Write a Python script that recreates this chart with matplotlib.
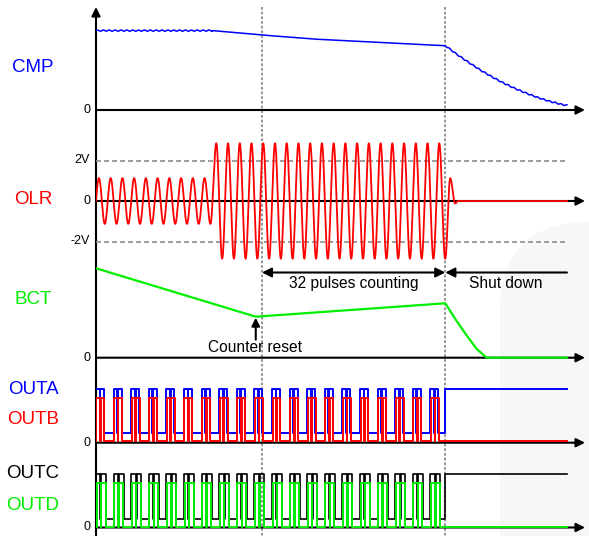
import numpy as np
import matplotlib
matplotlib.use("Agg")
import matplotlib.pyplot as plt
from matplotlib.patches import FancyBboxPatch

plt.rcParams["font.family"] = ["Liberation Sans", "DejaVu Sans"]

W_PX, H_PX = 589, 536

# ---- timing (time in OLR cycles, t=0 at the vertical axis) ----
T_AMP = 9.83      # OLR amplitude step
T_RESET = 14.25   # counter reset
T_MIN = 13.72     # BCT minimum
T_SHUT = 30.0     # shut down
T_END = 40.45

# CMP
cmp_t = [0, 10, 14.25, 18.6, 27.2, 30, 31, 32, 33, 34, 35, 36, 37, 38, 39, 40, 40.45]
cmp_v = [3.97, 3.97, 3.75, 3.55, 3.29, 3.22, 2.78, 2.38, 2.0, 1.66, 1.35, 1.07,
         0.83, 0.61, 0.43, 0.28, 0.23]
cmp_ripple = 0.03

# OLR (V)
olr_period = 1.008
olr_amp_low = 1.13
olr_amp_high = 2.85
olr_tail_t = [30.0, 30.42, 30.85, 31.1]
olr_tail_v = [-2.85, 1.13, -0.12, 0.0]

# BCT
bct_t = [0, 13.72, 30.0, 30.9, 31.8, 32.7, 33.55, 40.45]
bct_v = [4.47, 2.05, 2.72, 1.9, 1.14, 0.44, 0.0, 0.0]

# gate outputs: one period, high windows inside the period, high/low levels
out_period = 1.512
outa_win = [(0.0, 0.31), (0.38, 0.68)]
outb_win = [(0.04, 0.35), (0.42, 0.72)]
outc_win = [(0.0, 0.38), (0.46, 0.86)]
outd_win = [(0.05, 0.41), (0.44, 0.82)]
outa_lv = (2.68, 0.47)
outb_lv = (2.22, 0.08)
outc_lv = (2.66, 0.42)
outd_lv = (2.21, 0.05)


def fx(x):
    return x / W_PX


def fy(y):
    return 1 - y / H_PX


def panel(fig, top, bottom, zero, ppu):
    ax = fig.add_axes([fx(96), fy(bottom), fx(585) - fx(96), (bottom - top) / H_PX])
    ax.set_xlim(0, 42)
    ax.set_ylim(-(bottom - zero) / ppu, (zero - top) / ppu)
    ax.axis("off")
    ax.annotate("", xy=(42, 0), xytext=(0, 0), annotation_clip=False,
                arrowprops=dict(arrowstyle="-|>", color="k", lw=1.5,
                                mutation_scale=13, shrinkA=0, shrinkB=0))
    return ax


def cos_join(ts, vs, n=40):
    tt, vv = [], []
    for i in range(len(ts) - 1):
        s = np.linspace(0, 1, n)
        tt.append(ts[i] + (ts[i + 1] - ts[i]) * s)
        vv.append(vs[i] + (vs[i + 1] - vs[i]) * (1 - np.cos(np.pi * s)) / 2)
    return np.concatenate(tt), np.concatenate(vv)


def pulses(windows, lv, t_stop, final):
    hi, lo = lv
    tt, vv = [0.0], [hi if windows[0][0] <= 0 else lo]
    k = 0
    while k * out_period < t_stop:
        c = k * out_period
        for on, off in windows:
            for e, v in ((c + on, hi), (c + off, lo)):
                if 0 < e < t_stop:
                    tt.append(e)
                    vv.append(v)
        k += 1
    tt += [t_stop, T_END]
    vv += [final, final]
    return tt, vv


fig = plt.figure(figsize=(W_PX / 100, H_PX / 100), dpi=100)

# faint watermark shape in the lower right
bg = fig.add_axes([0, 0, 1, 1], zorder=-1)
bg.set_xlim(0, W_PX)
bg.set_ylim(H_PX, 0)
bg.axis("off")
bg.add_patch(FancyBboxPatch((500, 222), 300, 400, boxstyle="round,pad=0,rounding_size=90",
                            fc="#f7f7f7", ec="none"))

# overlay: y axis arrow and event markers (y in pixel rows)
ov = fig.add_axes([fx(96), 0, fx(585) - fx(96), 1])
ov.set_xlim(0, 42)
ov.set_ylim(H_PX, 0)
ov.axis("off")
for tv in (T_RESET, T_SHUT):
    ov.plot([tv, tv], [7, H_PX], color="#8c8c8c", lw=1.3, ls=(0, (1.5, 1.1)))
ov.annotate("", xy=(0, 7), xytext=(0, H_PX), annotation_clip=False,
            arrowprops=dict(arrowstyle="-|>", color="k", lw=1.5,
                            mutation_scale=13, shrinkA=0, shrinkB=0))
ov.annotate("", xy=(T_RESET, 272.5), xytext=(T_SHUT, 272.5),
            arrowprops=dict(arrowstyle="<|-|>", color="k", lw=1.5,
                            mutation_scale=14, shrinkA=0, shrinkB=0))
ov.annotate("", xy=(T_SHUT, 272.5), xytext=(T_END, 272.5),
            arrowprops=dict(arrowstyle="-|>", color="k", lw=1.5,
                            mutation_scale=14, shrinkA=0, shrinkB=0))
ov.text((T_RESET + T_SHUT) / 2, 283.5, "32 pulses counting", ha="center", va="center",
        fontsize=11.2)
ov.text((T_SHUT + T_END) / 2, 283.5, "Shut down", ha="center", va="center", fontsize=11.2)

# CMP
ax = panel(fig, 10, 125, 110, 20)
t = np.linspace(0, T_END, 4000)
v = np.interp(t, cmp_t, cmp_v)
rip = np.where((t < 10) | (t > T_SHUT), cmp_ripple * np.sin(4 * np.pi * t / olr_period), 0)
ax.plot(t, v + rip, color="#0000ff", lw=1.1)

# OLR
ax = panel(fig, 125, 262, 201, 20.25)
ax.plot([0, 40.4], [2, 2], color="#8c8c8c", lw=1.2, ls=(0, (3, 1.8)))
ax.plot([0, 40.4], [-2, -2], color="#8c8c8c", lw=1.2, ls=(0, (3, 1.8)))
t = np.linspace(0, T_SHUT, 6000)
s = np.sin(2 * np.pi * t / olr_period)
mid = (olr_amp_high - olr_amp_low) / 2
half = (olr_amp_high + olr_amp_low) / 2
v = np.where(t < T_AMP, olr_amp_low * s,
             np.where(t < T_AMP + olr_period / 2, mid + half * s, olr_amp_high * s))
tt, vv = cos_join(olr_tail_t, olr_tail_v)
t = np.concatenate([t, tt, [T_END]])
v = np.concatenate([v, vv, [0]])
ax.plot(t, v, color="#ff0000", lw=1.3, zorder=3)

# BCT
ax = panel(fig, 262, 365, 357.7, 20)
ax.plot(bct_t, bct_v, color="#00ee00", lw=1.6, zorder=3)
ax.annotate("", xy=(T_MIN, 2.0), xytext=(T_MIN, 0.9),
            arrowprops=dict(arrowstyle="-|>", color="k", lw=1.5,
                            mutation_scale=12, shrinkA=0, shrinkB=0))
ax.text(T_MIN - 0.1, 0.5, "Counter reset", ha="center", va="center", fontsize=11.2)

# OUTA / OUTB
ax = panel(fig, 370, 450, 442.7, 20)
ax.plot(*pulses(outa_win, outa_lv, T_SHUT, outa_lv[0]), color="#0000ff", lw=1.4,
        drawstyle="steps-post", zorder=3)
ax.plot(*pulses(outb_win, outb_lv, T_SHUT, outb_lv[1]), color="#ff0000", lw=1.4,
        drawstyle="steps-post", zorder=4)

# OUTC / OUTD
ax = panel(fig, 455, 536, 527.5, 20)
ax.plot(*pulses(outc_win, outc_lv, T_SHUT, outc_lv[0]), color="#000000", lw=1.2,
        drawstyle="steps-post", zorder=3)
ax.plot(*pulses(outd_win, outd_lv, T_SHUT, outd_lv[1]), color="#00ee00", lw=1.4,
        drawstyle="steps-post", zorder=4)

# left labels
labels = [("CMP", 68, "#0000ff"), ("OLR", 200, "#ff0000"), ("BCT", 300, "#00ee00"),
          ("OUTA", 389, "#0000ff"), ("OUTB", 419, "#ff0000"),
          ("OUTC", 473, "#000000"), ("OUTD", 505, "#00ee00")]
for txt, y, c in labels:
    fig.text(fx(33), fy(y), txt, ha="center", va="center", fontsize=13.5, color=c)
ticks = [("0", 110), ("2V", 160), ("0", 201), ("-2V", 241), ("0", 357.7),
         ("0", 442.7), ("0", 527)]
for txt, y in ticks:
    fig.text(fx(90), fy(y), txt, ha="right", va="center", fontsize=9)

fig.savefig("out.png", dpi=100, facecolor="white")
